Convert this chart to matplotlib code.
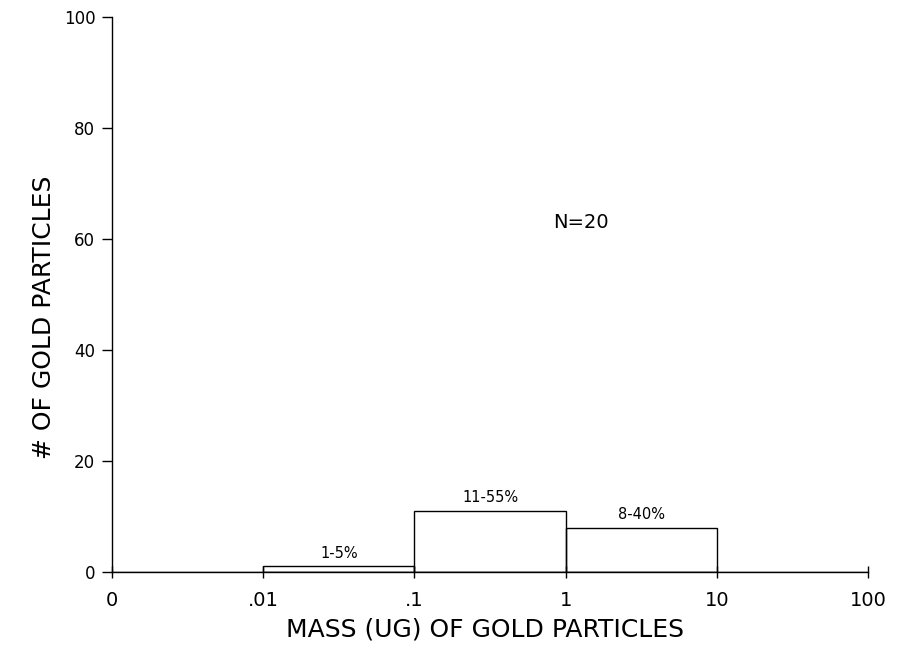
import matplotlib
matplotlib.use("Agg")
import matplotlib.pyplot as plt

# Mass classes (µg) shown on an evenly spaced decade axis
tick_labels = ["0", ".01", ".1", "1", "10", "100"]
bin_left = [1, 2, 3]            # index of left edge decade for each bar
counts = [1, 11, 8]
percent_labels = ["1-5%", "11-55%", "8-40%"]
n_total = 20

plt.rcParams["font.family"] = ["DejaVu Sans"]

fig = plt.figure(figsize=(9.15, 6.48), dpi=100)
ax = fig.add_axes([112 / 915, 1 - 572 / 648, 756 / 915, 555 / 648])

ax.bar(bin_left, counts, width=1, align="edge", fill=False,
       edgecolor="black", linewidth=1.0)
ax.axhline(0, color="black", linewidth=1.0)

for left, c, lab in zip(bin_left, counts, percent_labels):
    ax.text(left + 0.5, c + 1.0, lab, ha="center", va="bottom", fontsize=10.5)

ax.text(3.1, 63, f"N={n_total}", ha="center", va="center", fontsize=14)

ax.set_xlim(0, 5)
ax.set_ylim(0, 100)
ax.set_xticks(range(len(tick_labels)))
ax.set_xticklabels(tick_labels, fontsize=14)
ax.set_yticks(range(0, 101, 20))
ax.tick_params(axis="y", direction="out", length=7, width=1.0, pad=5, labelsize=12)
ax.tick_params(axis="x", direction="inout", length=9, width=1.0, pad=9, labelsize=14)

for side in ("top", "right"):
    ax.spines[side].set_visible(False)
for side in ("left", "bottom"):
    ax.spines[side].set_linewidth(1.0)

ax.text(0.493, -0.1045, "MASS (UG) OF GOLD PARTICLES", transform=ax.transAxes,
        ha="center", va="center", fontsize=18)
ax.text(-0.090, 0.458, "# OF GOLD PARTICLES", transform=ax.transAxes,
        ha="center", va="center", rotation=90, fontsize=18)

fig.savefig("out.png", dpi=100)
